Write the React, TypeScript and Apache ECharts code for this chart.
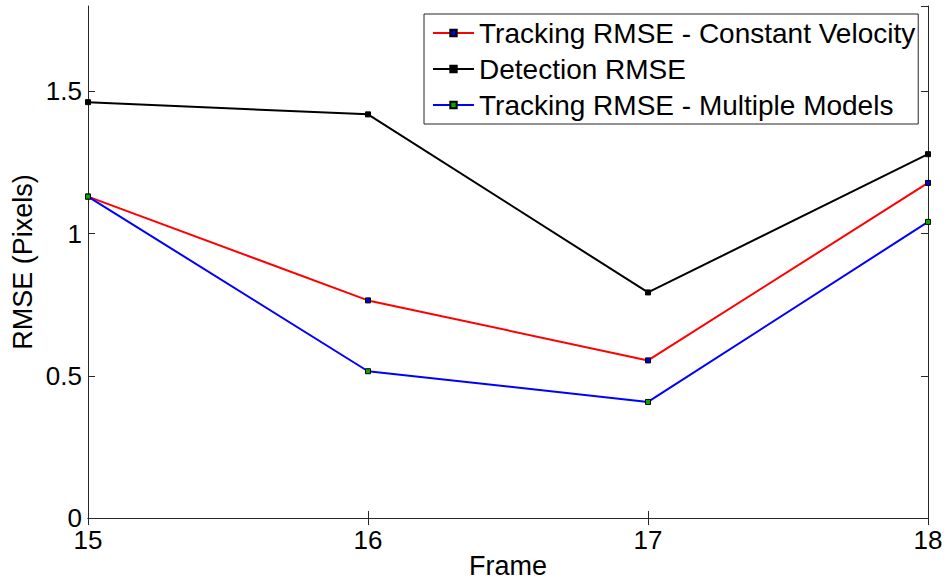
import React, { useEffect, useRef } from "react";
import * as echarts from "echarts";

const frames = [15, 16, 17, 18];
const trackingCV = [1.13, 0.765, 0.554, 1.178];
const detection = [1.462, 1.419, 0.793, 1.279];
const trackingMM = [1.13, 0.516, 0.408, 1.041];
const yTicks = [0, 0.5, 1, 1.5];

const FONT = "'Liberation Sans', Arial, sans-serif";

export default function App() {
  const ref = useRef<HTMLDivElement>(null);
  useEffect(() => {
    if (!ref.current) return;
    const chart = echarts.init(ref.current, null, { renderer: "svg" });
    const mk = (vals: number[]) => frames.map((f, i) => [f, vals[i]]);
    const series = [
      { name: "Tracking RMSE - Constant Velocity", data: mk(trackingCV), color: "#ff0000", fill: "#0000cc" },
      { name: "Detection RMSE", data: mk(detection), color: "#000000", fill: "#000000" },
      { name: "Tracking RMSE - Multiple Models", data: mk(trackingMM), color: "#0000ff", fill: "#00aa00" },
    ].map((s) => ({
      type: "line",
      name: s.name,
      data: s.data,
      symbol: "rect",
      symbolSize: 5,
      showAllSymbol: true,
      lineStyle: { color: s.color, width: 2 },
      itemStyle: { color: s.fill, borderColor: "#000", borderWidth: 1 },
      emphasis: { disabled: true },
    }));
    const axisLine = { show: true, lineStyle: { color: "#262626", width: 1 } };
    const tick = { show: true, inside: true, length: 7, lineStyle: { color: "#262626" } };
    chart.setOption({
      animation: false,
      backgroundColor: "#fff",
      grid: { left: 88, right: 17, top: 6, bottom: 64, containLabel: false, outerBoundsMode: "none" },
      legend: {
        left: 424,
        top: 14,
        orient: "vertical",
        backgroundColor: "#fff",
        borderColor: "#262626",
        borderWidth: 1,
        borderRadius: 0,
        padding: [5, 3, 5, 8],
        itemGap: 8,
        itemWidth: 41,
        itemHeight: 8,
        textStyle: { fontFamily: FONT, fontSize: 28, color: "#000" },
        data: series.map((s) => s.name),
      },
      xAxis: [
        {
          type: "value",
          min: 15,
          max: 18,
          interval: 1,
          name: "Frame",
          nameLocation: "middle",
          nameGap: 34,
          nameMoveOverlap: false,
          nameTextStyle: { fontFamily: FONT, fontSize: 27, color: "#000" },
          axisLine,
          axisTick: tick,
          axisLabel: { fontFamily: FONT, fontSize: 26, color: "#000", margin: 9 },
          splitLine: { show: false },
        },
        {
          type: "value",
          position: "top",
          min: 15,
          max: 18,
          interval: 1,
          axisLine,
          axisTick: tick,
          axisLabel: { show: false },
          splitLine: { show: false },
        },
      ],
      yAxis: [
        {
          type: "value",
          min: 0,
          max: 1.8,
          interval: 0.5,
          name: "RMSE (Pixels)",
          nameLocation: "middle",
          nameGap: 52,
          nameMoveOverlap: false,
          nameTextStyle: { fontFamily: FONT, fontSize: 27, color: "#000" },
          axisLine,
          axisTick: tick,
          axisLabel: {
            fontFamily: FONT,
            fontSize: 26,
            color: "#000",
            margin: 6,
            showMaxLabel: false,
            formatter: (v: number) => (yTicks.includes(v) ? String(v) : ""),
          },
          splitLine: { show: false },
        },
        {
          type: "value",
          position: "right",
          min: 0,
          max: 1.8,
          interval: 0.5,
          axisLine,
          axisTick: tick,
          axisLabel: { show: false },
          splitLine: { show: false },
        },
      ],
      series,
    });
    return () => chart.dispose();
  }, []);
  return <div ref={ref} style={{ width: 945, height: 582, position: "absolute", left: 0, top: 0 }} />;
}
